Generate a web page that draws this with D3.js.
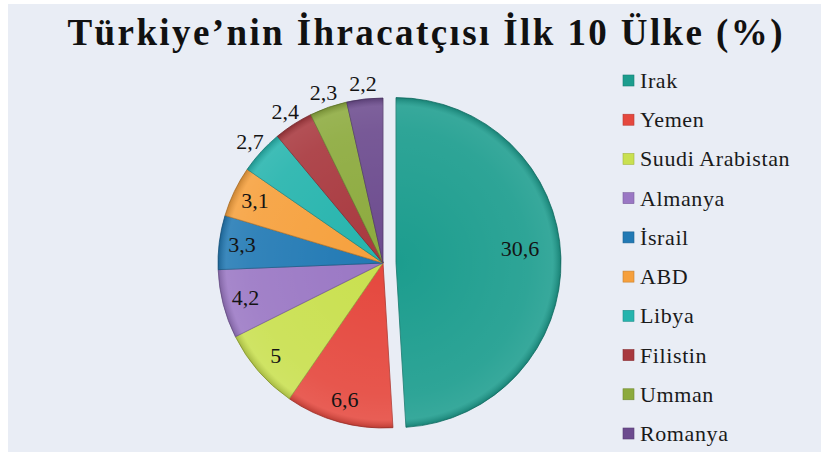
<!DOCTYPE html>
<html><head><meta charset="utf-8">
<script src="https://cdn.jsdelivr.net/npm/d3@7"></script>
<style>
html,body{margin:0;padding:0;background:#fff;}
svg{display:block;}
</style></head>
<body>
<svg id="chart" width="821" height="452"></svg>
<script>
const title = "Türkiye’nin İhracatçısı İlk 10 Ülke (%)";
const countries = ["Irak","Yemen","Suudi Arabistan","Almanya","İsrail","ABD","Libya","Filistin","Umman","Romanya"];
const values = [30.6,6.6,5,4.2,3.3,3.1,2.7,2.4,2.3,2.2];
const labels = ["30,6","6,6","5","4,2","3,3","3,1","2,7","2,4","2,3","2,2"];
const colors = ["#1c9d8e","#e5483e","#c9e04f","#9a77c4","#2179b4","#f6a03c","#25b4ad","#a8383e","#8caa3d","#6c4b8e"];

const FONT = "'Liberation Serif'";
const svg = d3.select("#chart");
const W = 821, H = 452;
svg.append("rect").attr("width",W).attr("height",H).attr("fill","#ffffff");
svg.append("rect").attr("x",8).attr("y",4).attr("width",W-8).attr("height",H-4).attr("fill","#e9edf5");

svg.append("text").attr("x",425).attr("y",45).attr("text-anchor","middle")
  .style("font-family",FONT).attr("font-weight","bold")
  .attr("font-size",37).attr("textLength",715).attr("lengthAdjust","spacing")
  .attr("fill","#111").text(title);

const defs = svg.append("defs");
const rg = defs.append("radialGradient").attr("id","shade").attr("gradientUnits","userSpaceOnUse")
  .attr("cx",0).attr("cy",0).attr("r",165);
rg.append("stop").attr("offset","0%").attr("stop-color","#fff").attr("stop-opacity",0);
rg.append("stop").attr("offset","80%").attr("stop-color","#fff").attr("stop-opacity",0.08);
rg.append("stop").attr("offset","95%").attr("stop-color","#fff").attr("stop-opacity",0.12);
rg.append("stop").attr("offset","100%").attr("stop-color","#000").attr("stop-opacity",0.18);

const R = 165, cx = 383, cy = 263, explode = 13;
const pie = d3.pie().sort(null).value(d=>d)(values);
const arc = d3.arc().innerRadius(0).outerRadius(R);
const g = svg.append("g").attr("transform",`translate(${cx},${cy})`);
const off = d => {
  if (d.index !== 0) return [0,0];
  const a = (d.startAngle + d.endAngle)/2;
  return [Math.sin(a)*explode, -Math.cos(a)*explode];
};
const sl = g.selectAll("g.slice").data(pie).enter().append("g")
  .attr("transform", d => `translate(${off(d)[0]},${off(d)[1]})`);
sl.append("path").attr("d",arc).attr("fill",(d,i)=>colors[i])
  .attr("stroke",(d,i)=>d3.color(colors[i]).darker(0.8)).attr("stroke-width",0.8);
sl.append("path").attr("d",arc).attr("fill","url(#shade)");

const inArc = d3.arc().innerRadius(142).outerRadius(142);
const outArc = d3.arc().innerRadius(180).outerRadius(180);
const irakArc = d3.arc().innerRadius(124).outerRadius(124);
sl.append("text")
  .attr("transform", d => {
    const a = d.index === 0 ? irakArc : (d.data >= 3 ? inArc : outArc);
    const c = a.centroid(d);
    return `translate(${c[0]},${c[1] + (d.index===0 ? -10 : 0) + 7})`;
  })
  .attr("text-anchor","middle")
  .style("font-family",FONT).attr("font-size",22)
  .attr("fill","#141414").text((d,i)=>labels[i]);

const ly = d3.scalePoint().domain(countries).range([81,434]);
const leg = svg.append("g").selectAll("g").data(countries).enter().append("g")
  .attr("transform", d => `translate(623,${ly(d)})`);
leg.append("rect").attr("x",0).attr("y",-6).attr("width",11).attr("height",11)
  .attr("fill",(d,i)=>colors[i]).attr("stroke",(d,i)=>d3.color(colors[i]).darker(0.6)).attr("stroke-width",0.6);
leg.append("text").attr("x",17).attr("y",7)
  .style("font-family",FONT).attr("font-size",22).attr("letter-spacing",0.6)
  .attr("fill","#1a1a1a").text(d=>d);
</script>
</body></html>
